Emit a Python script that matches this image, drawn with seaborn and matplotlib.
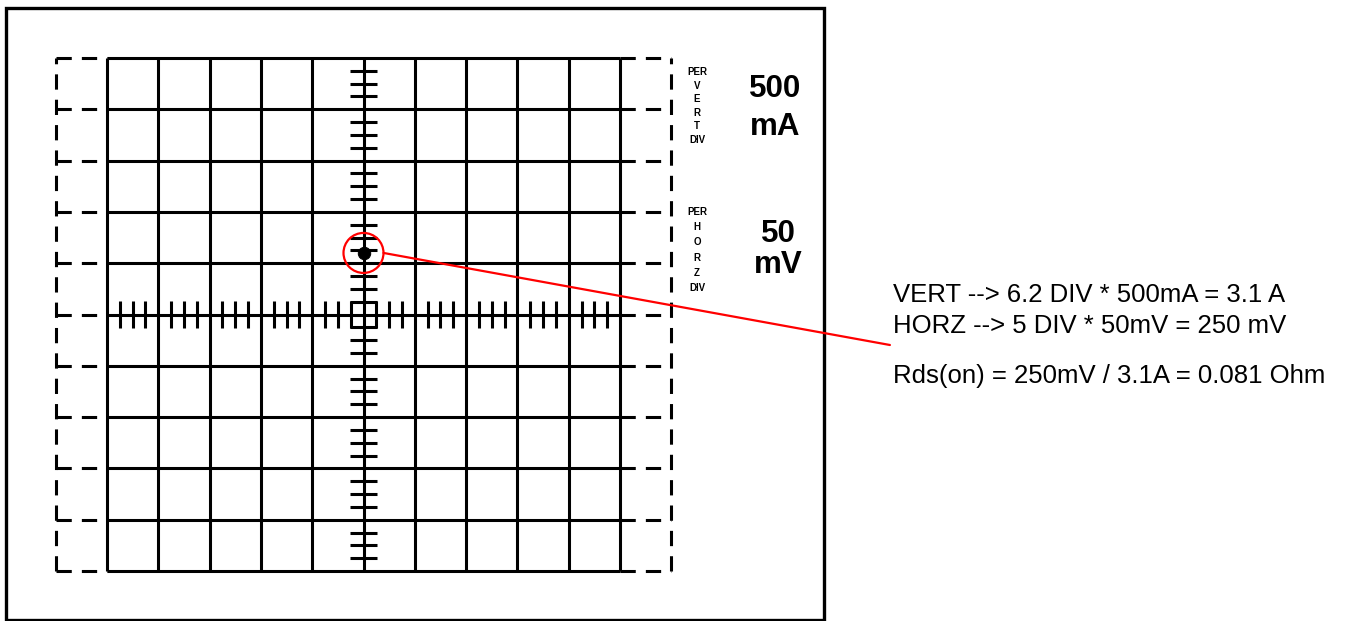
import matplotlib
matplotlib.use("Agg")
import matplotlib.pyplot as plt
from matplotlib.patches import Circle, Rectangle
import numpy as np
import pandas as pd
import seaborn as sns

# ---- data ----
n_div = 10                      # graticule divisions
minor_per_div = 4               # sub-divisions on the centre axes
vert_div = [6.2]                # measured vertical divisions
horz_div = [5.0]                # measured horizontal divisions
vert_scale_label = ["500", "mA"]
horz_scale_label = ["50", "mV"]
vert_side_letters = ["PER", "V", "E", "R", "T", "DIV"]
horz_side_letters = ["PER", "H", "O", "R", "Z", "DIV"]
result_lines = ["VERT --> 6.2 DIV * 500mA = 3.1 A",
                "HORZ --> 5 DIV * 50mV = 250 mV",
                "Rds(on) = 250mV / 3.1A = 0.081 Ohm"]

sns.set_style("white")
plt.rcParams["font.family"] = ["Liberation Sans", "DejaVu Sans"]
plt.rcParams["text.color"] = "black"

W, H = 1345, 621
fig = plt.figure(figsize=(W / 100, H / 100), dpi=100)
ax = fig.add_axes([0, 0, 1, 1])
ppd = 51.3          # pixels per division
x0px, y0px = 107, 571
ax.set_xlim(-x0px / ppd, (W - x0px) / ppd)
ax.set_ylim((y0px - H) / ppd, y0px / ppd)
ax.set_axis_off()

lw = 2.2
k = "black"
# outer frame
ax.add_patch(Rectangle((-101 / ppd, (y0px - 619.5) / ppd), 818 / ppd, 611.5 / ppd,
                       fill=False, lw=2.4, ec=k, zorder=1))

# solid graticule
for i in range(n_div + 1):
    ax.plot([i, i], [0, n_div], color=k, lw=lw, solid_capstyle="butt", zorder=2)
    ax.plot([0, n_div], [i, i], color=k, lw=lw, solid_capstyle="butt", zorder=2)

# dashed side extensions
dash = (0, (5, 3.3))
for i in range(n_div + 1):
    ax.plot([-1, 0], [i, i], color=k, lw=lw, ls=dash, zorder=2)
    ax.plot([n_div, n_div + 1], [i, i], color=k, lw=lw, ls=dash, zorder=2)
ax.plot([-1, -1], [0, n_div], color=k, lw=lw, ls=dash, zorder=2)
ax.plot([n_div + 1, n_div + 1], [0, n_div], color=k, lw=lw, ls=dash, zorder=2)

# minor ticks on centre axes
c = n_div / 2
tl = 0.27
minor = np.arange(0, n_div + 1e-9, 1 / minor_per_div)
minor = minor[np.abs(minor - np.round(minor)) > 1e-6]
for m in minor:
    ax.plot([c - tl, c + tl], [m, m], color=k, lw=lw, solid_capstyle="butt", zorder=2)
    ax.plot([m, m], [c - tl, c + tl], color=k, lw=lw, solid_capstyle="butt", zorder=2)

# measured point
pt = pd.DataFrame({"x": horz_div, "y": vert_div})
sns.scatterplot(data=pt, x="x", y="y", s=80, color=k, edgecolor=k, ax=ax, zorder=4)
r = 20 / ppd
ax.add_patch(Circle((horz_div[0], vert_div[0]), r, fill=False, ec="red", lw=1.6, zorder=5))
tx = (893 - x0px) / ppd
end = (tx - 0.06, (y0px - 345) / ppd)
ax.plot([horz_div[0] + r, end[0]], [vert_div[0], end[1]], color="red", lw=1.6, zorder=5)

# side labels
sx = (697 - x0px) / ppd
for j, t in enumerate(vert_side_letters):
    ax.text(sx, (y0px - (72 + 13.6 * j)) / ppd, t, fontsize=7, fontweight="bold",
            ha="center", va="center")
for j, t in enumerate(horz_side_letters):
    ax.text(sx, (y0px - (212 + 15.2 * j)) / ppd, t, fontsize=7, fontweight="bold",
            ha="center", va="center")

bx = (775 - x0px) / ppd
ax.text(bx, (y0px - 97) / ppd, vert_scale_label[0], fontsize=22.5, fontweight="bold", ha="center", va="baseline")
ax.text(bx, (y0px - 135) / ppd, vert_scale_label[1], fontsize=22.5, fontweight="bold", ha="center", va="baseline")
bx2 = (778 - x0px) / ppd
ax.text(bx2, (y0px - 242) / ppd, horz_scale_label[0], fontsize=22.5, fontweight="bold", ha="center", va="baseline")
ax.text(bx2, (y0px - 273) / ppd, horz_scale_label[1], fontsize=22.5, fontweight="bold", ha="center", va="baseline")

# result text
for t, ypx in zip(result_lines, [302, 333, 383]):
    ax.text(tx, (y0px - ypx) / ppd, t, fontsize=18.5, ha="left", va="baseline")

fig.savefig("out.png", dpi=100, facecolor="white")
